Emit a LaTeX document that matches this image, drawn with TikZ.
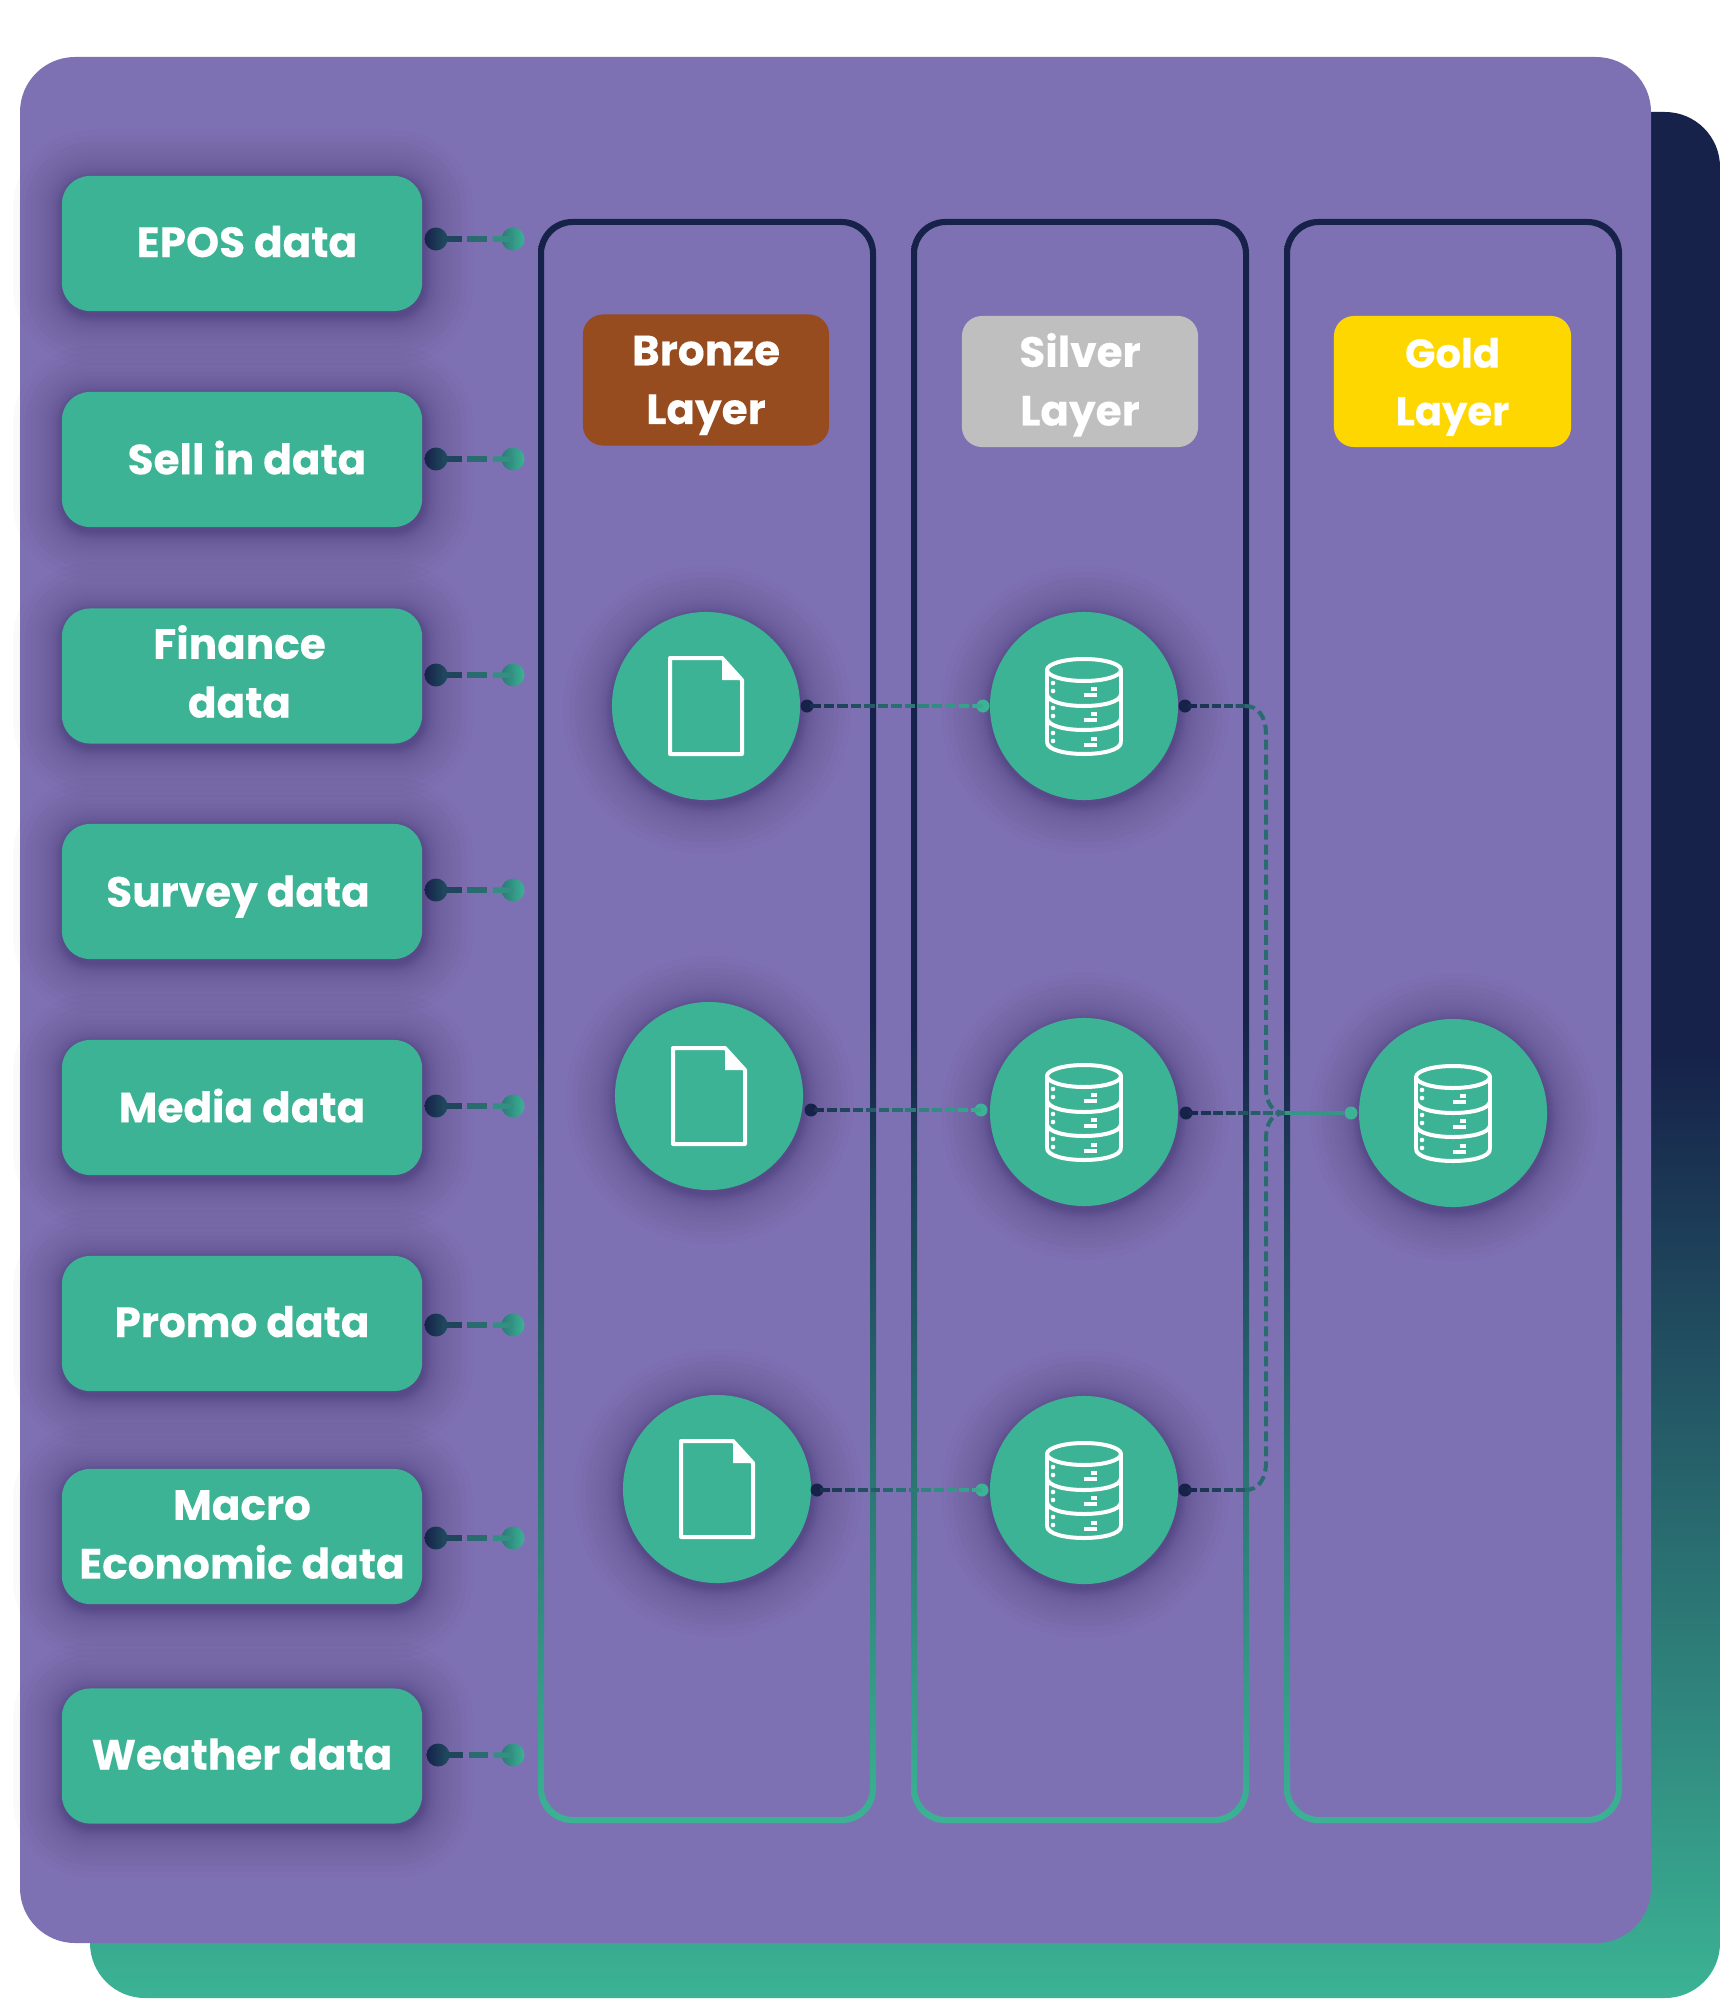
\documentclass[tikz,border=0pt]{standalone}
\usepackage{fontspec}
\setmainfont{Poppins}[BoldFeatures={FakeBold=0.2}]
\usepackage{xcolor}
\usetikzlibrary{calc}

\definecolor{panelback}{HTML}{7E71B3}
\definecolor{navybase}{HTML}{16224A}
\definecolor{greenbase}{HTML}{3BB394}
\definecolor{glowbase}{HTML}{2A1A50}
\definecolor{bronzebase}{HTML}{964C1E}
\definecolor{silverbase}{HTML}{BFBFBF}
\definecolor{goldbase}{HTML}{FFD700}

\tikzset{
    srcbox/.style={fill=greenbase, text=white, rounded corners=0.28cm, align=center, inner sep=0pt,
        minimum width=3.6cm, minimum height=1.35cm, font=\fontsize{12}{16.7}\selectfont\bfseries},
    layerbox/.style={text=white, rounded corners=0.2cm, align=center, inner sep=0pt,
        minimum height=1.31cm, font=\fontsize{12}{16.7}\selectfont\bfseries},
    stepdisc/.style={circle, fill=greenbase, minimum size=1.88cm, inner sep=0pt},
    bigdot/.style={circle, minimum size=0.23cm, inner sep=0pt},
    smalldot/.style={circle, minimum size=0.13cm, inner sep=0pt},
    iconline/.style={draw=white, line width=0.04cm, line join=round},
    fileicon/.pic={
        \draw[iconline] (-36,-48) -- (16,-48) -- (36,-26) -- (36,48) -- (-36,48) -- cycle;
        \fill[white] (16,-48) -- (36,-26) -- (16,-26) -- cycle;
    },
    dbicon/.pic={
        \draw[iconline] (0,-36) ellipse [x radius=37, y radius=11];
        \draw[iconline] (-37,-36) -- (-37,36) (37,-36) -- (37,36);
        \foreach \yy in {-12,12,36}
            \draw[iconline] (-37,\yy) .. controls (-37,\yy+16) and (37,\yy+16) .. (37,\yy);
        \foreach \yy in {-23,2,27} {
            \fill[white] (-31,\yy) circle (2.3);
            \fill[white] (-31,\yy+8) circle (2.3);
            \draw[white, line width=0.033cm] (7,\yy+6) -- (13,\yy+6);
            \draw[white, line width=0.033cm] (0,\yy+12) -- (13,\yy+12);
        }
    }
}

\newcommand{\liftup}{\rule[-1.2pt]{0pt}{0pt}}
\newcommand{\softglow}[5]{
    \foreach \g in {1,2,3,4,5,6,7,8,10,12,14,17,20,24,28,33,38,44,50} {
        \pgfmathsetlengthmacro{\rr}{(#5+\g)*0.01cm}
        \fill[glowbase, opacity=0.024, rounded corners=\rr]
            (#1-#3-\g+1,#2-#4-\g+4) rectangle (#1+#3+\g+1,#2+#4+\g+4);
    }
}
\newcommand{\fadelink}[6][]{
    \foreach \i in {1,...,#4} {
        \pgfmathsetmacro{\ta}{(\i-1+0.22)/#4}
        \pgfmathsetmacro{\tb}{(\i-1+1)/#4}
        \pgfmathtruncatemacro{\mixp}{#5+(#6-#5)*(\i-1)/(#4-1)}
        \draw[line width=0.036cm, navybase!\mixp!greenbase, #1] ($(#2)!\ta!(#3)$) -- ($(#2)!\tb!(#3)$);
    }
}
\newcommand{\lanebox}[2]{
    \shade[even odd rule, top color=navybase, bottom color=greenbase, middle color=navybase]
        [rounded corners=0.34cm] (#1,219) rectangle (#2,1823)
        [rounded corners=0.29cm] (#1+6,225) rectangle (#2-6,1817);
}

\begin{document}
\begin{tikzpicture}[x=0.01cm, y=-0.01cm]
    \useasboundingbox (0,0) rectangle (1722,2000);

    % 背面のパネル
    \shade[top color=navybase, bottom color=greenbase, middle color=navybase, rounded corners=0.55cm]
        (90,112) rectangle (1720,1998);
    \fill[panelback, rounded corners=0.55cm] (20,57) rectangle (1651,1943);

    % レイヤーの枠
    \lanebox{538}{876}
    \lanebox{911}{1249}
    \lanebox{1284}{1622}

    % レイヤー名
    \node[layerbox, fill=bronzebase, minimum width=2.46cm] (bronze) at (706,380) {\rule{0pt}{11.5pt}Bronze\\Layer};
    \node[layerbox, fill=silverbase, minimum width=2.36cm] (silver) at (1080,381.5) {\rule{0pt}{11.5pt}Silver\\Layer};
    \node[layerbox, fill=goldbase, minimum width=2.37cm, font=\fontsize{11.4}{16.4}\selectfont\bfseries] (gold) at (1452.5,381.5) {\rule{0pt}{11.5pt}Gold\\Layer};

    % データソース
    \foreach \src/\yy/\dy/\dx/\txt in {
        epos/243.5/239/0/{\hspace*{1mm}EPOS data\liftup},
        sellin/459.5/459/0/{\hspace*{1mm}Sell in data\liftup},
        finance/676/675/0/{Finance\hspace*{0.5mm}\\data\hspace*{0.5mm}\rule[-2.7pt]{0pt}{0pt}},
        survey/891.5/890/0/{\rule{0pt}{11.8pt}Survey data\hspace*{0.8mm}},
        media/1107.5/1106/0/{Media data\liftup},
        promo/1323.5/1325/0/{Promo data\liftup},
        macro/1536.5/1538/0/{Macro\\Economic data\liftup},
        weather/1756/1755/2/{Weather data\liftup}} {
        \softglow{242}{\yy}{180}{67.5}{28}
        \node[srcbox] (\src) at (242,\yy) {\txt};
        \node[bigdot, left color=navybase, right color=navybase!70!greenbase] (\src in) at (436+\dx,\dy) {};
        \node[bigdot, left color=navybase!40!greenbase, right color=greenbase] (\src out) at (513,\dy) {};
        \fadelink[line width=0.055cm]{\src in}{\src out}{3}{75}{25}
    }

    % 処理ステップ
    \foreach \st/\xx/\yy/\ic in {
        bronzea/706/706/fileicon, bronzeb/709/1096/fileicon, bronzec/717/1489/fileicon,
        silvera/1084/706/dbicon, silverb/1084/1112/dbicon, silverc/1084/1490/dbicon,
        golda/1453/1113/dbicon} {
        \softglow{\xx}{\yy}{94}{94}{94}
        \node[stepdisc] (\st) at (\xx,\yy) {};
        \pic at (\st) {\ic};
    }

    % 接続点
    \foreach \nm/\xx/\yy/\col in {
        ba/807/706/navybase, bb/811/1110/navybase, bc/817/1490/navybase,
        sa/983/706/greenbase, sb/981/1110/greenbase, sc/982/1490/greenbase,
        ta/1185/706/navybase, tb/1186/1113/navybase, tc/1185/1490/navybase,
        ga/1351/1113/greenbase}
        \node[smalldot, fill=\col] (\nm) at (\xx,\yy) {};

    % ブロンズからシルバーへ
    \fadelink{ba}{sa}{13}{90}{5}
    \fadelink{bb}{sb}{13}{90}{5}
    \fadelink{bc}{sc}{13}{90}{5}

    % シルバーからゴールドへ
    \coordinate (elbowa) at (1245,706);
    \coordinate (elbowc) at (1245,1490);
    \coordinate (merge) at (1285,1113);
    \fadelink{ta}{elbowa}{5}{95}{65}
    \fadelink{tc}{elbowc}{5}{95}{65}
    \fadelink{tb}{merge}{8}{95}{45}
    \draw[line width=0.04cm, navybase!50!greenbase, dash pattern=on 0.1cm off 0.05cm]
        (elbowa) .. controls (1258,706) and (1266,716) .. (1266,735) -- (1266,1088)
        .. controls (1266,1102) and (1272,1113) .. (merge);
    \draw[line width=0.04cm, navybase!50!greenbase, dash pattern=on 0.1cm off 0.05cm]
        (elbowc) .. controls (1258,1490) and (1266,1480) .. (1266,1462) -- (1266,1138)
        .. controls (1266,1124) and (1272,1113) .. (merge);
    \draw[line width=0.035cm, navybase!20!greenbase] (merge) -- (ga);
\end{tikzpicture}
\end{document}
